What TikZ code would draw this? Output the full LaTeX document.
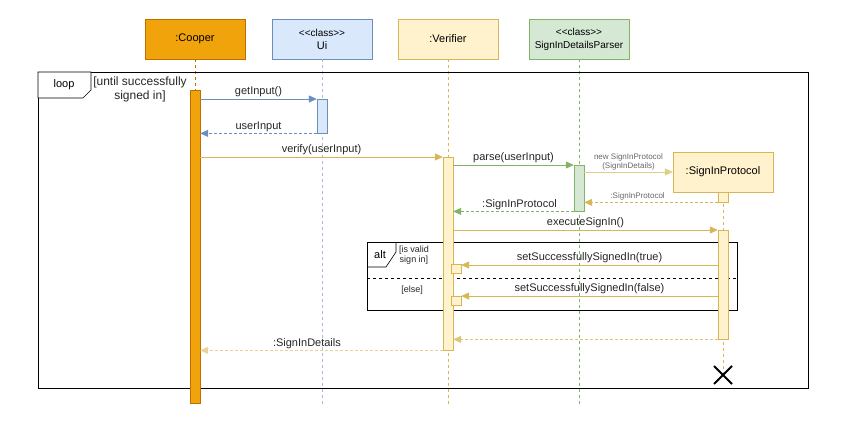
\documentclass[tikz,border=0pt]{standalone}
\usepackage{fontspec}
\setmainfont{Liberation Sans}
\usetikzlibrary{arrows.meta}
\definecolor{orgFill}{HTML}{F0A30A}
\definecolor{orgLine}{HTML}{BD7000}
\definecolor{bluFill}{HTML}{DAE8FC}
\definecolor{bluLine}{HTML}{6C8EBF}
\definecolor{ylwFill}{HTML}{FFF2CC}
\definecolor{ylwLine}{HTML}{D6B656}
\definecolor{grnFill}{HTML}{D5E8D4}
\definecolor{grnLine}{HTML}{82B366}
\newcommand{\stereo}{{\fontsize{10}{12}\selectfont\textless\kern0pt\textless class\textgreater\kern0pt\textgreater}}

\begin{document}
\begin{tikzpicture}[x=1pt, y=-1pt,
    head/.style={draw, minimum width=100pt, minimum height=40pt, inner sep=0pt, align=center, font=\fontsize{11}{13}\selectfont},
    act/.style={draw, minimum width=10pt, inner sep=0pt, anchor=north},
    life/.style={dash pattern=on 3pt off 3pt, line width=0.6pt},
    msg/.style={line width=0.8pt, -{Triangle[length=8pt,width=7pt]}},
    ret/.style={msg, dash pattern=on 3pt off 2pt},
    lbl/.style={above, inner sep=1.5pt, text=black!85, font=\fontsize{11}{12}\selectfont},
    tiny/.style={above, inner sep=1.5pt, text=black!60, align=center, font=\fontsize{8}{9}\selectfont},
    guard/.style={text=black!85, align=center, font=\fontsize{9}{10}\selectfont}]
    \useasboundingbox (0,0) rectangle (842,431);
    \coordinate (bottom) at (0,405);

    % participants
    \node[head, fill=orgFill, draw=orgLine] (cooper) at (195,39) {:Cooper};
    \node[head, fill=bluFill, draw=bluLine] (ui) at (322,39) {\stereo\\Ui};
    \node[head, fill=ylwFill, draw=ylwLine] (verifier) at (448,39) {:Verifier};
    \node[head, fill=grnFill, draw=grnLine] (parser) at (579,39) {\stereo\\{\fontsize{10}{12}\selectfont SignInDetailsParser}};
    \node[head, fill=ylwFill, draw=ylwLine] (proto) at (723,172) {:SignInProtocol};
    \coordinate (destroy) at (723,375);

    \draw[life, orgLine] (cooper.south) -- (cooper |- bottom);
    \draw[life, bluLine!60] (ui.south) -- (ui |- bottom);
    \draw[life, ylwLine] (verifier.south) -- (verifier |- bottom);
    \draw[life, grnLine] (parser.south) -- (parser |- bottom);
    \draw[life, ylwLine] (proto.south) -- (destroy);

    % loop frame
    \draw[line width=0.8pt] (38,72) rectangle (808,388);
    \draw[line width=0.6pt, fill=white] (38,72) -- (91,72) -- (91,90) -- (83,98) -- (38,98) -- cycle;
    \node[font=\fontsize{11}{12}\selectfont] (loopTag) at (64,85) {loop};
    \node[font=\fontsize{12}{14}\selectfont, align=center, text=black!85] (loopGuard) at (140,89) {[until successfully\\signed in]};

    % alt frame
    \draw[line width=0.8pt] (367,242) rectangle (737,310);
    \draw[line width=0.6pt] (367,267) -- (386,267) -- (396,252) -- (396,242);
    \draw[dashed, line width=0.6pt] (367,278) -- (737,278);
    \node[font=\fontsize{11}{12}\selectfont] (altTag) at (380,255) {alt};
    \node[guard] (validGuard) at (414,255) {[is valid\\sign in]};
    \node[guard] (elseGuard) at (412,290) {[else]};

    % activations
    \node[act, fill=orgFill, draw=orgLine, minimum height=313pt] (coopAct) at (195,90) {};
    \node[act, fill=bluFill, draw=bluLine, minimum height=34pt] (uiAct) at (322,99) {};
    \node[act, fill=ylwFill, draw=ylwLine, minimum height=193pt] (verAct) at (448,157) {};
    \node[act, fill=grnFill, draw=grnLine, minimum height=46pt] (parAct) at (579,165) {};
    \node[act, fill=ylwFill, draw=ylwLine, minimum height=10pt] (protoTop) at (723,192) {};
    \node[act, fill=ylwFill, draw=ylwLine, minimum height=109pt] (protoAct) at (723,230) {};
    \node[act, fill=ylwFill, draw=ylwLine, minimum height=9pt] (okTrue) at (456,264) {};
    \node[act, fill=ylwFill, draw=ylwLine, minimum height=9pt] (okFalse) at (456,296) {};

    % messages
    \draw[msg, bluLine] (coopAct.east |- uiAct.north west) -- node[lbl] {getInput()} (uiAct.north west);
    \draw[ret, bluLine] (uiAct.south west) -- node[lbl] {userInput} (coopAct.east |- uiAct.south west);
    \draw[msg, ylwLine] (coopAct.east |- verAct.north west) -- node[lbl] {verify(userInput)} (verAct.north west);
    \draw[msg, grnLine] (verAct.east |- parAct.north west) -- node[lbl] {parse(userInput)} (parAct.north west);
    \draw[msg, ylwLine!70] (parAct.east |- proto.west) -- node[tiny] {new SignInProtocol\\(SignInDetails)} (proto.west);
    \draw[ret, ylwLine] (protoTop.south west) -- node[tiny, pos=0.6] {:SignInProtocol} (parAct.east |- protoTop.south west);
    \draw[ret, grnLine] (parAct.south west) -- node[lbl, pos=0.45] {:SignInProtocol} (verAct.east |- parAct.south west);
    \draw[msg, ylwLine] (verAct.east |- protoAct.north west) -- node[lbl] {executeSignIn()} (protoAct.north west);
    \draw[msg, ylwLine] (protoAct.west |- okTrue.north east) ++(0,1) -- node[lbl] {setSuccessfullySignedIn(true)} ([yshift=-1pt]okTrue.north east);
    \draw[msg, ylwLine] (protoAct.west |- okFalse.north east) -- node[lbl] {setSuccessfullySignedIn(false)} (okFalse.north east);
    \draw[ret, ylwLine!80] (protoAct.south west) -- (verAct.east |- protoAct.south west);
    \draw[ret, ylwLine!60] (verAct.south west) -- node[lbl, pos=0.56] {:SignInDetails} (coopAct.east |- verAct.south west);

    % destroy
    \draw[line width=2pt] ([shift={(-9,-9)}]destroy) -- ([shift={(9,9)}]destroy);
    \draw[line width=2pt] ([shift={(-9,9)}]destroy) -- ([shift={(9,-9)}]destroy);
\end{tikzpicture}
\end{document}
